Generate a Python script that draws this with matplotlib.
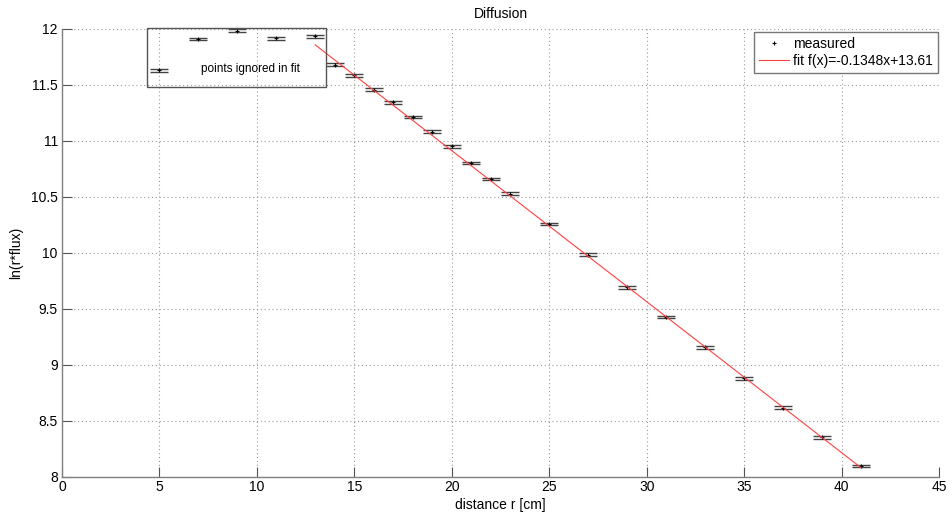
import matplotlib
matplotlib.use("Agg")
import matplotlib.pyplot as plt
from matplotlib.lines import Line2D
from matplotlib.patches import Rectangle
import numpy as np

plt.rcParams['font.family'] = ['Liberation Sans', 'DejaVu Sans']

# ignored points
x_ign = [5, 7, 9, 11, 13]
y_ign = [11.63, 11.91, 11.985, 11.916, 11.934]
# fitted points
x_fit = [14, 15, 16, 17, 18, 19, 20, 21, 22, 23, 25, 27, 29, 31, 33, 35, 37, 39, 41]
y_fit = [11.68, 11.585, 11.458, 11.345, 11.214, 11.083, 10.952, 10.804, 10.661,
         10.53, 10.26, 9.985, 9.693, 9.429, 9.157, 8.88, 8.62, 8.354, 8.098]
yerr_val = 0.012
slope = -0.1348
intercept = 13.61
fit_range = [13, 41]

xticks = [0, 5, 10, 15, 20, 25, 30, 35, 40, 45]
yticks = [8, 8.5, 9, 9.5, 10, 10.5, 11, 11.5, 12]

W, H = 952, 522
fig = plt.figure(figsize=(W/100, H/100), dpi=100)
ax = fig.add_axes([62/W, 1-477/H, (939-62)/W, (477-29)/H])

x_all = x_ign + x_fit
y_all = y_ign + y_fit
ax.errorbar(x_all, y_all, yerr=[yerr_val]*len(x_all), fmt='none', ecolor='#444444',
            elinewidth=0.8, capsize=6.5, capthick=1.0, zorder=3)
ax.plot(x_all, y_all, '+', color='black', markersize=3.5, markeredgewidth=0.8, zorder=4)

xf = np.array(fit_range, dtype=float)
ax.plot(xf, slope*xf + intercept, '-', color='#ff4040', linewidth=0.8, zorder=5)

ax.set_xlim(0, 45)
ax.set_ylim(8, 12)
ax.set_xticks(xticks)
ax.set_xticklabels([str(t) for t in xticks])
ax.set_yticks(yticks)
ax.set_yticklabels([('%g' % t) for t in yticks])
ax.tick_params(direction='in', length=7, width=0.8, color='#555555', labelsize=10, pad=3)
ax.tick_params(axis='x', pad=2)
for s in ['top', 'right']:
    ax.spines[s].set_visible(False)
for s in ['left', 'bottom']:
    ax.spines[s].set_color('#808080')
    ax.spines[s].set_linewidth(1.0)
ax.grid(True, linestyle=(0, (1, 2.5)), color='#999999', linewidth=0.8)
ax.set_axisbelow(True)

ax.set_title('Diffusion', fontsize=10, pad=8)
ax.set_xlabel('distance r [cm]', fontsize=10, labelpad=3)
ax.set_ylabel('ln(r*flux)', fontsize=10, labelpad=6)

# annotation box
rect = Rectangle((147/W, 1-87/H), (326-147)/W, (87-28)/H, transform=fig.transFigure,
                 fill=False, edgecolor='#555555', linewidth=1.0, zorder=10)
fig.patches.append(rect)
fig.text(250/W, 1-69/H, 'points ignored in fit', fontsize=8.5, ha='center', va='center')

handles = [Line2D([], [], marker='+', color='black', linestyle='none', markersize=3.5, markeredgewidth=0.8),
           Line2D([], [], color='#ff4040', linewidth=0.8)]
leg = ax.legend(handles, ['measured', 'fit f(x)=-0.1348x+13.61'], loc='upper right',
                bbox_to_anchor=(938/W, 1-32/H), bbox_transform=fig.transFigure,
                fancybox=False, edgecolor='#777777', framealpha=1, fontsize=10,
                handlelength=2.2, handletextpad=0.3, borderpad=0.35, labelspacing=0.2,
                borderaxespad=0)
leg.get_frame().set_linewidth(1.0)

fig.savefig('out.png', dpi=100)
